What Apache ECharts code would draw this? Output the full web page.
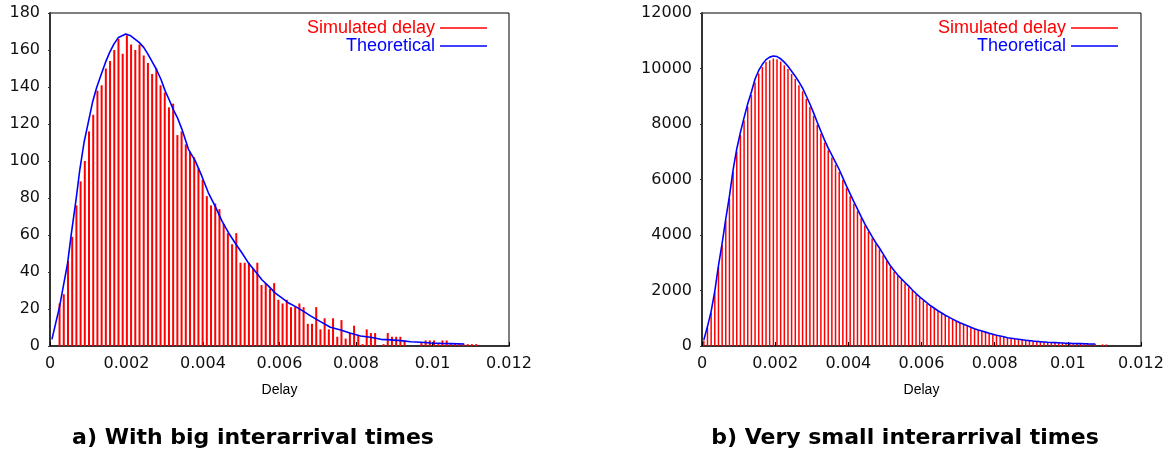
<!DOCTYPE html>
<html>
<head>
<meta charset="utf-8">
<script src="https://cdn.jsdelivr.net/npm/echarts@6/dist/echarts.min.js"></script>
<style>
html,body{margin:0;padding:0;background:#fff;}
#chart{width:1175px;height:461px;}
</style>
</head>
<body>
<div id="chart"></div>
<script>
// ---------- data ----------
const xTickLabels = ['0', '0.002', '0.004', '0.006', '0.008', '0.01', '0.012'];
const yTickLabelsA = ['0','20','40','60','80','100','120','140','160','180'];
const yTickLabelsB = ['0','2000','4000','6000','8000','10000','12000'];
const seriesNames = ['Simulated delay', 'Theoretical'];
const panelTitles = ['a) With big interarrival times', 'b) Very small interarrival times'];
const axisName = 'Delay';

// Panel a: simulated histogram (bin centre, count)
const aDelay = [
0.00025,0.00036,0.00047,0.00058,0.00069,0.0008,0.00091,0.00102,0.00113,0.00124,
0.00135,0.00146,0.00157,0.00168,0.00179,0.0019,0.00201,0.00212,0.00223,0.00234,
0.00245,0.00256,0.00267,0.00278,0.00289,0.003,0.00311,0.00322,0.00333,0.00344,
0.00355,0.00366,0.00377,0.00388,0.00399,0.0041,0.00421,0.00432,0.00443,0.00454,
0.00465,0.00476,0.00487,0.00498,0.00509,0.0052,0.00531,0.00542,0.00553,0.00564,
0.00575,0.00586,0.00597,0.00608,0.00619,0.0063,0.00641,0.00652,0.00663,0.00674,
0.00685,0.00696,0.00707,0.00718,0.00729,0.0074,0.00751,0.00762,0.00773,0.00784,
0.00795,0.00806,0.00817,0.00828,0.00839,0.0085,0.00861,0.00872,0.00883,0.00894,
0.00905,0.00916,0.00927,0.00938,0.00949,0.0096,0.00971,0.00982,0.00993,0.01004,
0.01015,0.01026,0.01037,0.01048,0.01059,0.0107,0.01081,0.01092,0.01103,0.01114];
const aCount = [
23,28,46,59,76,89,100,116,125,138,
141,150,154,160,166,158,168,163,160,163,
157,153,147,150,141,137,129,131,114,116,
109,105,102,96,90,81,76,77,74,66,
61,55,61,45,45,45,42,45,33,34,
31,34,25,23,25,21,21,23,21,12,
12,21,9,15,9,15,5,14,4,7,
11,6,1,9,7,7,0,1,7,5,
5,5,3,0,0,0,2,3,3,3,
1,3,3,1,1,1,1,1,1,1];
// Panel a: theoretical curve
const aTheoryX = [0.00005,0.00025,0.00046,0.00056,0.00068,0.00078,0.00089,0.001,0.00111,0.00122,
0.00134,0.00145,0.00156,0.00167,0.00179,0.00198,0.00211,0.00222,0.00233,0.00245,
0.00256,0.00268,0.00278,0.0029,0.00301,0.00311,0.00323,0.00333,0.00345,0.00362,
0.0038,0.00397,0.00414,0.00432,0.0045,0.00467,0.00484,0.00502,0.00519,0.00537,
0.00554,0.00572,0.00589,0.00607,0.00624,0.00642,0.00664,0.00681,0.00707,0.00733,
0.0076,0.00786,0.00812,0.00838,0.00865,0.00891,0.00917,0.00943,0.0097,0.00996,
0.01022,0.01048,0.01083];
const aTheoryY = [3.6,21.3,44.8,61,79,95.4,110,120.7,131.6,139.7,
146.9,153.3,158.7,163.2,166.8,168.6,167.7,165.9,164.1,161.4,
157.8,153.3,149.6,144.2,137.9,133.4,127.5,123.5,117.1,106.3,
99.9,91.8,82.8,75.5,67.4,61.1,55.7,50.3,44.8,40.3,
35.8,32.2,28.6,25.9,23.2,21.3,18.6,16.3,13.2,10.1,
8.7,6.9,5.4,4.7,3.6,3.3,2.9,2.3,2,1.6,
1.4,1.3,1.1];

// Panel b: simulated histogram (bin centre, count)
const bDelay = [
0.00005,0.00015,0.00025,0.00035,0.00045,0.00055,0.00065,0.00075,0.00085,0.00095,
0.00105,0.00115,0.00125,0.00135,0.00145,0.00155,0.00165,0.00175,0.00185,0.00195,
0.00205,0.00215,0.00225,0.00235,0.00245,0.00255,0.00265,0.00275,0.00285,0.00295,
0.00305,0.00315,0.00325,0.00335,0.00345,0.00355,0.00365,0.00375,0.00385,0.00395,
0.00405,0.00415,0.00425,0.00435,0.00445,0.00455,0.00465,0.00475,0.00485,0.00495,
0.00505,0.00515,0.00525,0.00535,0.00545,0.00555,0.00565,0.00575,0.00585,0.00595,
0.00605,0.00615,0.00625,0.00635,0.00645,0.00655,0.00665,0.00675,0.00685,0.00695,
0.00705,0.00715,0.00725,0.00735,0.00745,0.00755,0.00765,0.00775,0.00785,0.00795,
0.00805,0.00815,0.00825,0.00835,0.00845,0.00855,0.00865,0.00875,0.00885,0.00895,
0.00905,0.00915,0.00925,0.00935,0.00945,0.00955,0.00965,0.00975,0.00985,0.00995,
0.01005,0.01015,0.01025,0.01035,0.01045,0.01055,0.01065,0.01075,0.01085,0.01095,
0.01105];
const bCount = [
200,660,1200,1930,2850,3640,4510,5320,6270,7000,
7600,8130,8620,9050,9500,9820,10050,10230,10300,10360,
10330,10250,10120,9980,9800,9620,9400,9180,8900,8610,
8300,7960,7650,7330,7050,6790,6530,6270,5980,5690,
5400,5130,4860,4600,4340,4110,3880,3670,3480,3270,
3060,2850,2680,2520,2380,2250,2120,1990,1860,1740,
1630,1520,1420,1330,1250,1170,1090,1020,950,885,
825,770,715,660,610,570,530,490,450,415,
380,350,320,292,272,252,238,220,203,187,
172,160,150,140,130,123,117,111,103,96,
91,86,82,80,76,72,70,68,0,60,
55];
// Panel b: theoretical curve
const bTheoryX = [
0.00005,0.00015,0.00025,0.00035,0.00045,0.00055,0.00065,0.00075,0.00085,0.00095,
0.00105,0.00115,0.00125,0.00135,0.00145,0.00155,0.00165,0.00175,0.00185,0.00195,
0.00205,0.00215,0.00225,0.00235,0.00245,0.00255,0.00265,0.00275,0.00285,0.00295,
0.00305,0.00315,0.00325,0.00335,0.00345,0.00355,0.00365,0.00375,0.00385,0.00395,
0.00405,0.00415,0.00425,0.00435,0.00445,0.00455,0.00465,0.00475,0.00485,0.00495,
0.00505,0.00515,0.00525,0.00535,0.00545,0.00555,0.00565,0.00575,0.00585,0.00595,
0.00605,0.00615,0.00625,0.00635,0.00645,0.00655,0.00665,0.00675,0.00685,0.00695,
0.00705,0.00715,0.00725,0.00735,0.00745,0.00755,0.00765,0.00775,0.00785,0.00795,
0.00805,0.00815,0.00825,0.00835,0.00845,0.00855,0.00865,0.00875,0.00885,0.00895,
0.00905,0.00915,0.00925,0.00935,0.00945,0.00955,0.00965,0.00975,0.00985,0.00995,
0.01005,0.01015,0.01025,0.01035,0.01045,0.01055,0.01065,0.01075];
const bTheoryY = [
220,700,1250,1980,2900,3700,4580,5400,6350,7100,
7700,8230,8730,9150,9620,9930,10150,10320,10410,10450,
10430,10350,10230,10080,9900,9720,9520,9290,9010,8720,
8400,8060,7740,7420,7130,6880,6620,6360,6060,5760,
5480,5200,4930,4660,4400,4170,3940,3720,3530,3320,
3100,2890,2720,2560,2420,2290,2160,2020,1890,1770,
1660,1550,1450,1360,1270,1190,1110,1040,970,900,
840,785,730,675,625,580,540,500,460,425,
390,360,330,300,280,260,245,228,210,193,
178,165,155,145,135,128,122,116,108,100,
95,90,86,84,80,76,74,72];

// ---------- chart ----------
const RED = '#ff0000', BLUE = '#0000ff';
const tickFont = 'DejaVu Sans';
const pair = (xs, ys) => xs.map((x, i) => [x, ys[i]]);
const xLabel = v => xTickLabels[Math.round(v / 0.002)] ?? '';

function xAxisFor(gridIndex) {
  return {
    type: 'value', gridIndex, min: 0, max: 0.012, interval: 0.002,
    name: axisName, nameLocation: 'middle', nameGap: 37,
    nameTextStyle: { fontFamily: 'Liberation Sans', fontSize: 14, color: '#000' },
    axisLine: { show: true, onZero: false, lineStyle: { color: '#333', width: 2 } },
    axisTick: { show: true, inside: true, length: 4, lineStyle: { color: '#000' } },
    axisLabel: { formatter: xLabel, fontFamily: tickFont, fontSize: 16, color: '#111', margin: 10 },
    splitLine: { show: false }
  };
}
function yAxisFor(gridIndex, max, interval, labels) {
  return {
    type: 'value', gridIndex, min: 0, max, interval,
    axisLine: { show: true, lineStyle: { color: '#333', width: 2 } },
    axisTick: { show: true, inside: false, length: 2, lineStyle: { color: '#333' } },
    axisLabel: { formatter: v => labels[Math.round(v / interval)] ?? '', fontFamily: tickFont, fontSize: 16, color: '#111', margin: 10 },
    splitLine: { show: false }
  };
}
function legendFor(right) {
  return {
    orient: 'vertical', align: 'right', right, top: 19, padding: 0, itemGap: 0,
    itemWidth: 47, itemHeight: 1.6, selectedMode: false,
    textStyle: { fontFamily: 'Liberation Sans', fontSize: 18, lineHeight: 18 },
    data: [
      { name: seriesNames[0], icon: 'rect', itemStyle: { color: RED }, textStyle: { color: RED } },
      { name: seriesNames[1], icon: 'rect', itemStyle: { color: BLUE }, textStyle: { color: BLUE } }
    ]
  };
}
const titleStyle = { fontFamily: 'DejaVu Sans', fontWeight: 'bold', fontSize: 22, color: '#000' };

const chart = echarts.init(document.getElementById('chart'), null, { renderer: 'canvas' });
chart.setOption({
  animation: false,
  backgroundColor: '#fff',
  grid: [
    { left: 50, top: 13, width: 459, height: 333, show: true, borderColor: '#000', borderWidth: 1 },
    { left: 702, top: 13, width: 439, height: 333, show: true, borderColor: '#000', borderWidth: 1 }
  ],
  xAxis: [xAxisFor(0), xAxisFor(1)],
  yAxis: [yAxisFor(0, 180, 20, yTickLabelsA), yAxisFor(1, 12000, 2000, yTickLabelsB)],
  legend: [legendFor(688), legendFor(57)],
  title: [
    { text: panelTitles[0], left: 253, top: 427, textAlign: 'center', padding: 0, textStyle: titleStyle },
    { text: panelTitles[1], left: 905, top: 427, textAlign: 'center', padding: 0, textStyle: titleStyle }
  ],
  series: [
    { name: seriesNames[0], type: 'bar', xAxisIndex: 0, yAxisIndex: 0, barWidth: 2,
      itemStyle: { color: RED }, data: pair(aDelay, aCount), z: 2 },
    { name: seriesNames[1], type: 'line', xAxisIndex: 0, yAxisIndex: 0, showSymbol: false,
      lineStyle: { color: BLUE, width: 1.6 }, itemStyle: { color: BLUE }, data: pair(aTheoryX, aTheoryY), z: 3 },
    { name: seriesNames[0], type: 'bar', xAxisIndex: 1, yAxisIndex: 1, barWidth: 1.5,
      itemStyle: { color: RED }, data: pair(bDelay, bCount), z: 2 },
    { name: seriesNames[1], type: 'line', xAxisIndex: 1, yAxisIndex: 1, showSymbol: false,
      lineStyle: { color: BLUE, width: 1.6 }, itemStyle: { color: BLUE }, data: pair(bTheoryX, bTheoryY), z: 3 }
  ]
});
</script>
</body>
</html>
